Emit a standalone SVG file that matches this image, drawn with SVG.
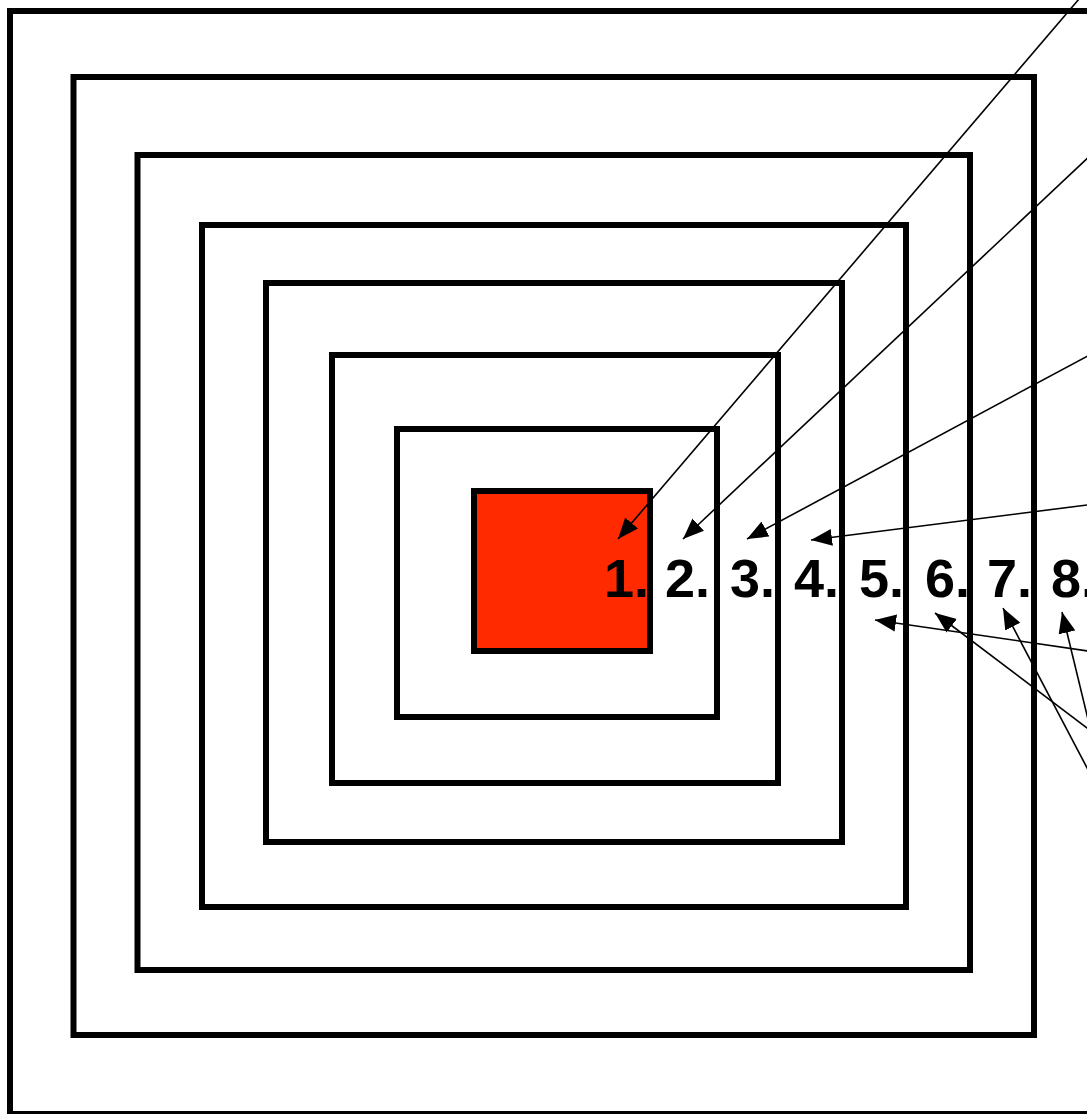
<svg xmlns="http://www.w3.org/2000/svg" width="1087" height="1114" viewBox="0 0 1087 1114">
<style>
.box{fill:none;stroke:#000;stroke-width:6}
.core{fill:#FF2A00;stroke:#000;stroke-width:6}
.lbl{font-family:"Liberation Sans",Arial,sans-serif;font-weight:bold;font-size:54px;fill:#000}
.conn{stroke:#000;stroke-width:1.6;fill:none;marker-end:url(#ah)}
</style>
<defs>
<marker id="ah" markerUnits="userSpaceOnUse" markerWidth="22" markerHeight="18" refX="21" refY="8.5" orient="auto" viewBox="0 0 22 17">
<path d="M0,0 L21,8.5 L0,17 z" fill="#000"/>
</marker>
</defs>
<rect width="1087" height="1114" fill="#fff"/>
<g id="ring1"><rect class="box" x="10" y="11" width="1100" height="1103"/></g>
<g id="ring2"><rect class="box" x="73.5" y="77" width="960.5" height="958"/></g>
<g id="ring3"><rect class="box" x="137.5" y="155" width="832.5" height="815"/></g>
<g id="ring4"><rect class="box" x="202" y="225" width="704" height="682"/></g>
<g id="ring5"><rect class="box" x="266" y="283" width="576" height="559"/></g>
<g id="ring6"><rect class="box" x="332" y="355" width="446" height="428"/></g>
<g id="ring7"><rect class="box" x="397" y="429" width="320" height="288"/></g>
<g id="core"><rect class="core" x="474" y="491" width="176" height="160"/></g>
<g id="labels">
<text class="lbl" x="604" y="597">1.</text>
<text class="lbl" x="665" y="597">2.</text>
<text class="lbl" x="730" y="597">3.</text>
<text class="lbl" x="794" y="597">4.</text>
<text class="lbl" x="859" y="597">5.</text>
<text class="lbl" x="925" y="597">6.</text>
<text class="lbl" x="987" y="597">7.</text>
<text class="lbl" x="1051" y="597">8.</text>
</g>
<g id="connectors">
<line class="conn" x1="1085" y1="-8" x2="618" y2="539"/>
<line class="conn" x1="1095" y1="151" x2="683" y2="539"/>
<line class="conn" x1="1095" y1="352" x2="747" y2="539"/>
<line class="conn" x1="1095" y1="504" x2="811" y2="540"/>
<line class="conn" x1="1095" y1="652" x2="875" y2="620"/>
<line class="conn" x1="1095" y1="734" x2="935" y2="613"/>
<line class="conn" x1="1095" y1="783" x2="1003" y2="608"/>
<line class="conn" x1="1095" y1="748" x2="1062" y2="612"/>
</g>
</svg>
